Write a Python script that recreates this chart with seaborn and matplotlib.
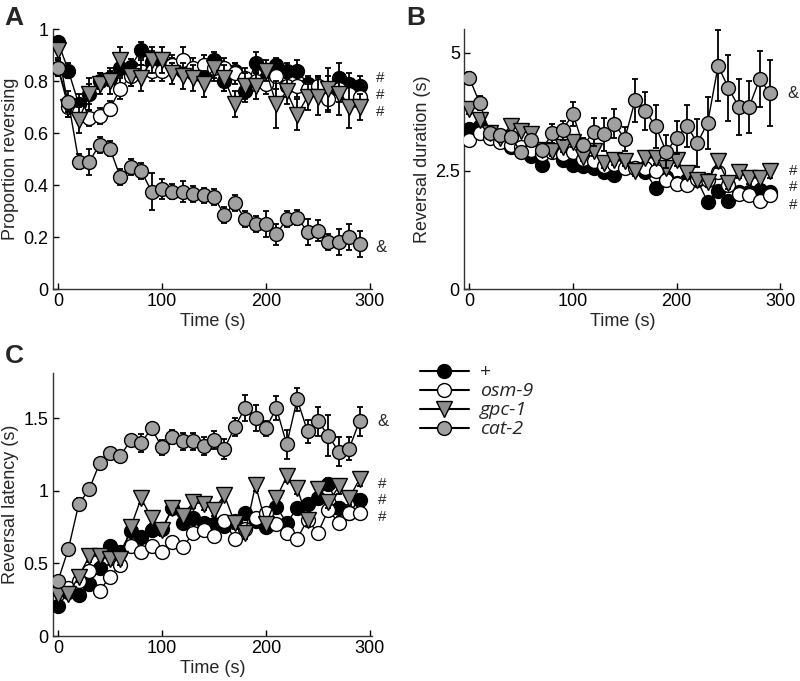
import matplotlib
matplotlib.use('Agg')
import matplotlib.pyplot as plt
import seaborn as sns
from matplotlib.lines import Line2D
from matplotlib.ticker import FuncFormatter

sns.set_theme(style="ticks")
plt.rcParams['font.family'] = ['Liberation Sans', 'DejaVu Sans']

time = [0, 10, 20, 30, 40, 50, 60, 70, 80, 90, 100, 110, 120, 130, 140,
        150, 160, 170, 180, 190, 200, 210, 220, 230, 240, 250, 260, 270, 280, 290]
strains = ['+', 'osm-9', 'gpc-1', 'cat-2']

# A: proportion reversing
A_wt = [0.95, 0.84, 0.71, 0.75, 0.80, 0.81, 0.85, 0.855, 0.92, 0.875, 0.87, 0.86, 0.84, 0.83, 0.82,
        0.88, 0.80, 0.84, 0.76, 0.87, 0.81, 0.86, 0.84, 0.84, 0.79, 0.78, 0.77, 0.81, 0.79, 0.78]
A_osm = [0.85, 0.70, 0.68, 0.657, 0.665, 0.694, 0.77, 0.82, 0.84, 0.84, 0.84, 0.86, 0.88, 0.85, 0.86,
         0.85, 0.85, 0.83, 0.81, 0.80, 0.79, 0.82, 0.78, 0.78, 0.77, 0.78, 0.73, 0.77, 0.75, 0.74]
A_gpc = [0.92, 0.70, 0.65, 0.75, 0.79, 0.80, 0.88, 0.82, 0.81, 0.88, 0.88, 0.83, 0.82, 0.81, 0.79,
         0.85, 0.81, 0.71, 0.78, 0.78, 0.84, 0.71, 0.76, 0.67, 0.74, 0.74, 0.77, 0.75, 0.70, 0.70]
A_cat = [0.85, 0.72, 0.49, 0.49, 0.555, 0.54, 0.43, 0.47, 0.455, 0.375, 0.385, 0.375, 0.375, 0.365, 0.36,
         0.355, 0.285, 0.33, 0.27, 0.25, 0.25, 0.21, 0.27, 0.275, 0.22, 0.225, 0.18, 0.18, 0.20, 0.175]
A_wt_err = [0.02, 0.03, 0.04, 0.04, 0.03, 0.03, 0.03, 0.03, 0.03, 0.04, 0.03, 0.03, 0.03, 0.03, 0.03,
            0.03, 0.04, 0.03, 0.04, 0.04, 0.03, 0.03, 0.03, 0.04, 0.03, 0.04, 0.05, 0.06, 0.04, 0.04]
A_osm_err = [0.03, 0.04, 0.04, 0.03, 0.03, 0.03, 0.04, 0.04, 0.04, 0.04, 0.04, 0.04, 0.05, 0.04, 0.04,
             0.04, 0.04, 0.04, 0.04, 0.04, 0.04, 0.05, 0.04, 0.04, 0.04, 0.04, 0.05, 0.05, 0.05, 0.04]
A_gpc_err = [0.03, 0.04, 0.05, 0.06, 0.04, 0.05, 0.05, 0.04, 0.05, 0.05, 0.05, 0.04, 0.05, 0.05, 0.05,
             0.05, 0.05, 0.05, 0.05, 0.05, 0.04, 0.09, 0.05, 0.06, 0.05, 0.07, 0.08, 0.08, 0.08, 0.05]
A_cat_err = [0.03, 0.04, 0.03, 0.05, 0.03, 0.03, 0.03, 0.03, 0.03, 0.07, 0.04, 0.03, 0.04, 0.03, 0.03,
             0.03, 0.03, 0.03, 0.03, 0.03, 0.05, 0.04, 0.03, 0.03, 0.05, 0.04, 0.03, 0.05, 0.05, 0.05]

# B: reversal duration (s)
B_wt = [3.38, 3.45, 3.25, 3.15, 3.00, 2.95, 2.82, 2.63, 2.95, 2.73, 2.63, 2.60, 2.55, 2.47, 2.42,
        2.60, 2.55, 2.47, 2.13, 2.37, 2.25, 2.30, 2.30, 1.84, 2.08, 1.86, 2.05, 2.05, 2.10, 2.05]
B_osm = [3.15, 3.30, 3.20, 3.10, 3.05, 3.00, 2.95, 2.85, 2.90, 2.85, 2.90, 2.75, 2.70, 2.60, 2.65,
         2.55, 2.55, 2.55, 2.50, 2.30, 2.22, 2.20, 2.33, 2.30, 2.48, 2.20, 2.00, 1.98, 1.86, 1.98]
B_gpc = [3.80, 3.57, 3.30, 3.20, 3.45, 3.35, 3.28, 2.95, 2.92, 3.00, 3.10, 2.80, 2.92, 2.66, 2.73,
         2.70, 2.49, 2.78, 2.77, 2.57, 2.72, 2.45, 2.30, 2.27, 2.71, 2.24, 2.47, 2.35, 2.35, 2.50]
B_cat = [4.47, 3.94, 3.29, 3.25, 3.22, 2.90, 3.16, 2.94, 3.29, 3.36, 3.70, 3.04, 3.32, 3.27, 3.50,
         3.18, 3.99, 3.76, 3.44, 2.90, 3.20, 3.45, 3.09, 3.52, 4.72, 4.25, 3.85, 3.85, 4.44, 4.15]
B_wt_err = [0.08, 0.08, 0.08, 0.08, 0.08, 0.08, 0.08, 0.08, 0.08, 0.08, 0.08, 0.08, 0.08, 0.08, 0.08,
            0.08, 0.08, 0.08, 0.08, 0.08, 0.08, 0.08, 0.08, 0.08, 0.08, 0.08, 0.08, 0.08, 0.08, 0.08]
B_osm_err = [0.08, 0.08, 0.08, 0.08, 0.08, 0.08, 0.08, 0.08, 0.08, 0.08, 0.08, 0.08, 0.08, 0.08, 0.08,
             0.08, 0.08, 0.08, 0.08, 0.08, 0.08, 0.08, 0.08, 0.08, 0.08, 0.08, 0.08, 0.08, 0.08, 0.08]
B_gpc_err = [0.10, 0.10, 0.10, 0.10, 0.10, 0.10, 0.10, 0.10, 0.10, 0.10, 0.10, 0.10, 0.10, 0.10, 0.10,
             0.10, 0.10, 0.12, 0.12, 0.12, 0.12, 0.12, 0.12, 0.12, 0.15, 0.12, 0.12, 0.12, 0.12, 0.15]
B_cat_err = [0.12, 0.15, 0.10, 0.10, 0.10, 0.10, 0.10, 0.10, 0.20, 0.20, 0.25, 0.15, 0.30, 0.35, 0.30,
             0.25, 0.45, 0.40, 0.45, 0.35, 0.35, 0.45, 0.50, 0.55, 0.75, 0.70, 0.60, 0.55, 0.60, 0.70]

# C: reversal latency (s)
C_wt = [0.21, 0.30, 0.28, 0.36, 0.47, 0.62, 0.58, 0.72, 0.68, 0.73, 0.74, 0.88, 0.78, 0.81, 0.78,
        0.77, 0.76, 0.79, 0.85, 0.79, 0.75, 0.89, 0.78, 0.88, 0.91, 0.95, 1.05, 0.88, 0.85, 0.94]
C_osm = [0.32, 0.33, 0.38, 0.45, 0.31, 0.41, 0.49, 0.62, 0.58, 0.62, 0.58, 0.65, 0.61, 0.71, 0.73,
         0.69, 0.79, 0.67, 0.74, 0.81, 0.85, 0.77, 0.71, 0.67, 0.80, 0.71, 0.87, 0.78, 0.85, 0.85]
C_gpc = [0.28, 0.29, 0.41, 0.55, 0.55, 0.53, 0.53, 0.75, 0.95, 0.81, 0.73, 0.88, 0.83, 0.92, 0.91,
         0.87, 0.97, 0.78, 0.71, 1.04, 0.77, 0.95, 1.10, 1.02, 0.80, 1.01, 0.92, 1.03, 0.95, 1.08]
C_cat = [0.38, 0.60, 0.91, 1.01, 1.19, 1.26, 1.24, 1.35, 1.33, 1.43, 1.30, 1.37, 1.34, 1.34, 1.31,
         1.35, 1.29, 1.44, 1.57, 1.50, 1.43, 1.57, 1.32, 1.63, 1.41, 1.48, 1.38, 1.27, 1.29, 1.48]
C_wt_err = [0.02, 0.02, 0.02, 0.03, 0.03, 0.03, 0.03, 0.03, 0.03, 0.03, 0.03, 0.03, 0.03, 0.03, 0.03,
            0.03, 0.03, 0.03, 0.03, 0.03, 0.03, 0.03, 0.03, 0.03, 0.03, 0.03, 0.04, 0.04, 0.04, 0.04]
C_osm_err = [0.02, 0.02, 0.02, 0.03, 0.03, 0.03, 0.03, 0.03, 0.03, 0.03, 0.03, 0.03, 0.03, 0.03, 0.03,
             0.03, 0.03, 0.03, 0.03, 0.03, 0.03, 0.03, 0.03, 0.03, 0.03, 0.03, 0.04, 0.04, 0.04, 0.04]
C_gpc_err = [0.02, 0.02, 0.04, 0.04, 0.04, 0.04, 0.04, 0.04, 0.04, 0.04, 0.04, 0.04, 0.04, 0.04, 0.04,
             0.04, 0.04, 0.04, 0.04, 0.04, 0.04, 0.04, 0.04, 0.04, 0.04, 0.04, 0.04, 0.05, 0.05, 0.05]
C_cat_err = [0.03, 0.03, 0.04, 0.03, 0.03, 0.03, 0.03, 0.03, 0.06, 0.03, 0.05, 0.05, 0.06, 0.06, 0.06,
             0.06, 0.07, 0.06, 0.09, 0.09, 0.05, 0.08, 0.10, 0.08, 0.08, 0.10, 0.14, 0.10, 0.08, 0.10]

styles = {'+': ('o', 'black', 10), 'osm-9': ('o', 'white', 10),
          'gpc-1': ('v', '#8c8c8c', 11), 'cat-2': ('o', '#a0a0a0', 10)}

fig = plt.figure(figsize=(8, 6.81), dpi=100)
axA = fig.add_axes([0.066, 0.5756, 0.399, 0.3818])
axB = fig.add_axes([0.58, 0.5756, 0.398, 0.3818])
axC = fig.add_axes([0.066, 0.066, 0.399, 0.386])


def draw_panel(ax, series, errs, ylim, yticks, ylabel):
    for i, name in enumerate(strains):
        marker, face, ms = styles[name]
        ax.errorbar(time, series[i], yerr=errs[i], fmt='none', ecolor='black',
                    elinewidth=1.3, capsize=2.5, capthick=1.3, zorder=2 + 2 * i)
        sns.lineplot(x=time, y=series[i], ax=ax, color='black', linewidth=1,
                     marker=marker, markersize=ms, markerfacecolor=face,
                     markeredgecolor='black', markeredgewidth=1,
                     errorbar=None, zorder=3 + 2 * i)
    ax.set_xlim(-5, 302)
    ax.set_ylim(*ylim)
    ax.set_xticks([0, 100, 200, 300])
    ax.set_yticks(yticks)
    ax.yaxis.set_major_formatter(FuncFormatter(lambda v, p: '{:g}'.format(v)))
    ax.tick_params(direction='in', length=4, width=1, labelsize=13, pad=3, colors='black')
    for s in ['top', 'right']:
        ax.spines[s].set_visible(False)
    for s in ['left', 'bottom']:
        ax.spines[s].set_linewidth(1)
        ax.spines[s].set_color('#333333')
    ax.set_xlabel('Time (s)', fontsize=13, labelpad=2)
    ax.set_ylabel(ylabel, fontsize=13, labelpad=3)


draw_panel(axA, [A_wt, A_osm, A_gpc, A_cat], [A_wt_err, A_osm_err, A_gpc_err, A_cat_err],
           (0, 1), [0, 0.2, 0.4, 0.6, 0.8, 1], 'Proportion reversing')
draw_panel(axB, [B_wt, B_osm, B_gpc, B_cat], [B_wt_err, B_osm_err, B_gpc_err, B_cat_err],
           (0, 5.5), [0, 2.5, 5], 'Reversal duration (s)')
draw_panel(axC, [C_wt, C_osm, C_gpc, C_cat], [C_wt_err, C_osm_err, C_gpc_err, C_cat_err],
           (0, 1.81), [0, 0.5, 1, 1.5], 'Reversal latency (s)')

# significance marks
for ax, x, amp_y, hash_ys in [(axA, 305, 0.16, [0.81, 0.745, 0.68]),
                              (axB, 307, 4.14, [2.49, 2.16, 1.78]),
                              (axC, 307, 1.475, [1.05, 0.94, 0.82])]:
    ax.text(x, amp_y, '&', fontsize=12, va='center', ha='left', clip_on=False)
    for y in hash_ys:
        ax.text(x + 1, y, '#', fontsize=11, va='center', ha='left', clip_on=False)

# panel letters
fig.text(0.006, 0.963, 'A', fontsize=19, fontweight='bold')
fig.text(0.508, 0.963, 'B', fontsize=19, fontweight='bold')
fig.text(0.006, 0.467, 'C', fontsize=19, fontweight='bold')

handles = []
for name in strains:
    marker, face, ms = styles[name]
    handles.append(Line2D([0], [0], color='black', linewidth=1.5, marker=marker,
                          markersize=ms, markerfacecolor=face, markeredgecolor='black'))
leg = fig.legend(handles, strains, loc='upper left', bbox_to_anchor=(0.503, 0.492),
                 frameon=False, handlelength=2.5, handletextpad=0.6, labelspacing=0.05,
                 prop={'family': ['Open Sans', 'DejaVu Sans'], 'size': 14})
for t in leg.get_texts()[1:]:
    t.set_style('italic')

fig.savefig('out.png', dpi=100)
